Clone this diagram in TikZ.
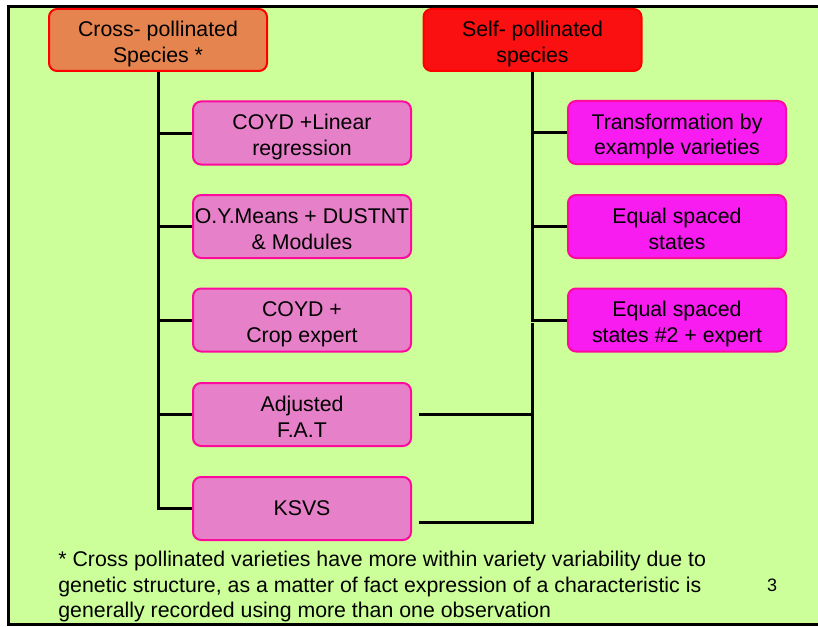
\documentclass[tikz,border=0pt]{standalone}
\usepackage{fontspec}
\setmainfont{Liberation Sans}
\usetikzlibrary{calc}
\definecolor{Slide}{HTML}{CCFF99}
\definecolor{CrossFill}{HTML}{E6844F}
\definecolor{SelfFill}{HTML}{FA1010}
\definecolor{HeadLine}{HTML}{FF0000}
\definecolor{CrossMeth}{HTML}{E680C8}
\definecolor{SelfMeth}{HTML}{F81CF0}
\definecolor{MethLine}{HTML}{FF0A9E}

\begin{document}
\begin{tikzpicture}[x=0.5pt,y=-0.5pt,every node/.style={font=\fontsize{10.65}{13}\selectfont, align=center, inner sep=0pt},pair/.style={text height=25.5pt, text depth=3pt},head/.style={pair, rounded corners=4pt, minimum width=109pt, minimum height=31pt, line width=1pt, draw=HeadLine},meth/.style={rounded corners=4pt, minimum width=109pt, minimum height=31.5pt, line width=1pt, draw=MethLine},tree/.style={line width=1.5pt}]
\useasboundingbox (0,0) rectangle (818,626);
\fill[Slide] (8,7) rectangle (818,624);
\draw[line width=1.5pt] (818,7) -- (8,7) -- (8,624) -- (818,624);
% species headers
\node[head, fill=CrossFill] (cross) at (158,40) {Cross- pollinated\\Species *};
\node[head, fill=SelfFill] (self) at (532.5,40) {Self- pollinated\\species};
% cross-pollinated methods
\node[meth, pair, fill=CrossMeth] (coydlin) at (302,133) {COYD +Linear\\regression};
\node[meth, pair, fill=CrossMeth] (oymeans) at (302,226.5) {O.Y.Means + DUSTNT\\\& Modules};
\node[meth, pair, fill=CrossMeth] (coydexp) at (302,320) {COYD +\\Crop expert};
\node[meth, pair, fill=CrossMeth] (fat) at (302,414.5) {Adjusted\\F.A.T};
\node[meth, fill=CrossMeth] (ksvs) at (302,508.5) {KSVS};
% self-pollinated methods
\node[meth, pair, fill=SelfMeth] (transf) at (677,132.5) {Transformation by\\example varieties};
\node[meth, pair, fill=SelfMeth] (eqstates) at (677,226.5) {Equal spaced\\states};
\node[meth, pair, fill=SelfMeth] (eqexpert) at (677,320) {Equal spaced\\states \#2 + expert};
% left tree
\draw[tree] (cross.south) |- (ksvs.west);
\draw[tree] (cross.south |- coydlin.west) -- (coydlin.west);
\draw[tree] (cross.south |- oymeans.west) -- (oymeans.west);
\draw[tree] (cross.south |- coydexp.west) -- (coydexp.west);
\draw[tree] (cross.south |- fat.west) -- (fat.west);
% right tree
\draw[tree] (self.south) |- (eqexpert.west);
\draw[tree] (self.south |- transf.west) -- (transf.west);
\draw[tree] (self.south |- eqstates.west) -- (eqstates.west);
\coordinate (join) at ($(self.south |- eqexpert.west)+(0,3)$);
\draw[tree] ([xshift=3.5pt,yshift=-7pt]ksvs.east) -| (join);
\draw[tree] ([xshift=3.5pt]fat.east) -- (fat.east -| join);
% footnote
\node[anchor=north west, align=left, font=\fontsize{10.65}{12.6}\selectfont] (note) at (58,551) {* Cross pollinated varieties have more within variety variability due to\\genetic structure, as a matter of fact expression of a characteristic is\\generally recorded using more than one observation};
\node[font=\fontsize{9}{10}\selectfont] (pagenum) at (772,585) {3};
\end{tikzpicture}
\end{document}
